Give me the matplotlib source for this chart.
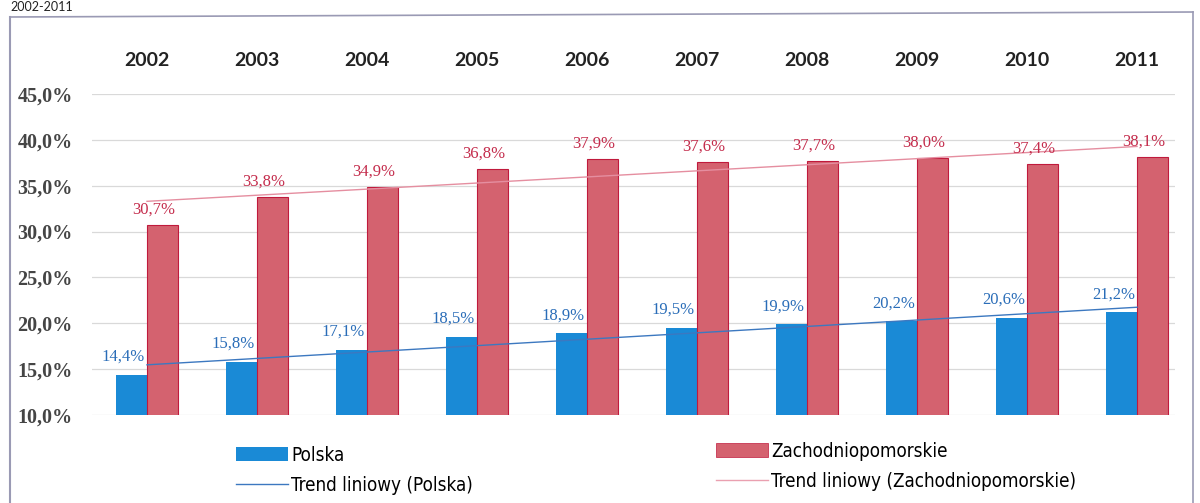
import numpy as np
import matplotlib
matplotlib.use('Agg')
import matplotlib.pyplot as plt
from matplotlib.patches import Patch
from matplotlib.lines import Line2D

years = ['2002', '2003', '2004', '2005', '2006', '2007', '2008', '2009', '2010', '2011']
polska = [14.4, 15.8, 17.1, 18.5, 18.9, 19.5, 19.9, 20.2, 20.6, 21.2]
zachodniopomorskie = [30.7, 33.8, 34.9, 36.8, 37.9, 37.6, 37.7, 38.0, 37.4, 38.1]
yticks = [10, 15, 20, 25, 30, 35, 40, 45]

blue = '#1a8ad6'
red_fill = '#d4626f'
red_edge = '#c01a3c'
blue_txt = '#2a6db8'
red_txt = '#c42c4c'

fig = plt.figure(figsize=(12, 5.03), dpi=100)
# axes placed to match the reference pixels
ax = fig.add_axes([92 / 1200, 1 - 415 / 503, (1175 - 92) / 1200, (415 - 94) / 503])

x = np.arange(len(years))
w = 0.28
ax.bar(x - w / 2, polska, w, color=blue, zorder=3)
ax.bar(x + w / 2, zachodniopomorskie, w, color=red_fill, edgecolor=red_edge, linewidth=0.8, zorder=3)

# linear trend lines
p1 = np.polyfit(x, polska, 1)
p2 = np.polyfit(x, zachodniopomorskie, 1)
ax.plot(x, np.polyval(p1, x), color='#3c78c0', lw=1.0, zorder=4)
ax.plot(x, np.polyval(p2, x), color='#e58ea0', lw=1.0, zorder=4)

lab_font = ['Liberation Serif', 'DejaVu Serif']
for i in range(len(years)):
    ax.annotate(f'{polska[i]:.1f}%'.replace('.', ','), xy=(x[i] - w / 2, polska[i]),
                xytext=(-6, 13), textcoords='offset points', ha='center', va='center',
                fontsize=12, color=blue_txt, family=lab_font, zorder=5)
    ax.annotate(f'{zachodniopomorskie[i]:.1f}%'.replace('.', ','), xy=(x[i] + w / 2, zachodniopomorskie[i]),
                xytext=(-6, 11), textcoords='offset points', ha='center', va='center',
                fontsize=12, color=red_txt, family=lab_font, zorder=5)

ax.set_ylim(10, 45)
ax.set_xlim(-0.5, 9.345)
ax.set_yticks(yticks)
ax.set_yticklabels([f'{t:.1f}%'.replace('.', ',') for t in yticks], family=lab_font,
                   fontsize=14.5, fontweight='bold', color='#454545')
ax.yaxis.grid(True, color='#d9d9d9', lw=0.9, zorder=0)
ax.tick_params(axis='y', length=0, pad=14)

ax.xaxis.tick_top()
ax.set_xticks(x)
ax.set_xticklabels(years, family=['Lato', 'DejaVu Sans'], fontweight='bold', fontsize=14, color='#222222')
ax.tick_params(axis='x', length=0, pad=18)

for s in ax.spines.values():
    s.set_visible(False)

# outer chart frame
frame_c = '#9a9ab4'
fig.add_artist(Line2D([10 / 1200, 10 / 1200], [0, 1 - 17 / 503], color=frame_c, lw=1.5))
fig.add_artist(Line2D([10 / 1200, 1193 / 1200], [1 - 17 / 503, 1 - 12 / 503], color=frame_c, lw=1.2))
fig.add_artist(Line2D([1193 / 1200, 1193 / 1200], [0, 1 - 12 / 503], color=frame_c, lw=1.2))

fig.text(10 / 1200, 1 - 1 / 503, '2002-2011', fontsize=9, family=['Lato', 'DejaVu Sans'],
         color='#222222', va='top', ha='left')

leg_font = {'family': ['DejaVu Sans', 'Liberation Sans'], 'size': 13.5, 'stretch': 'condensed'}
h1 = [Patch(facecolor=blue, edgecolor='none'),
      Line2D([0], [0], color='#3c78c0', lw=1.0)]
h2 = [Patch(facecolor=red_fill, edgecolor=red_edge, lw=0.5),
      Line2D([0], [0], color='#eaa0b0', lw=1.0)]
leg1 = fig.legend(h1, ['Polska', 'Trend liniowy (Polska)'], loc='upper left',
                  bbox_to_anchor=(219 / 1200, 1 - 429 / 503), frameon=False, prop=leg_font,
                  handlelength=2.8, handleheight=0.75, handletextpad=0.15, labelspacing=0.6)
leg2 = fig.legend(h2, ['Zachodniopomorskie', 'Trend liniowy (Zachodniopomorskie)'], loc='upper left',
                  bbox_to_anchor=(699 / 1200, 1 - 425 / 503), frameon=False, prop=leg_font,
                  handlelength=2.8, handleheight=0.75, handletextpad=0.15, labelspacing=0.6)

fig.savefig('out.png', dpi=100)
